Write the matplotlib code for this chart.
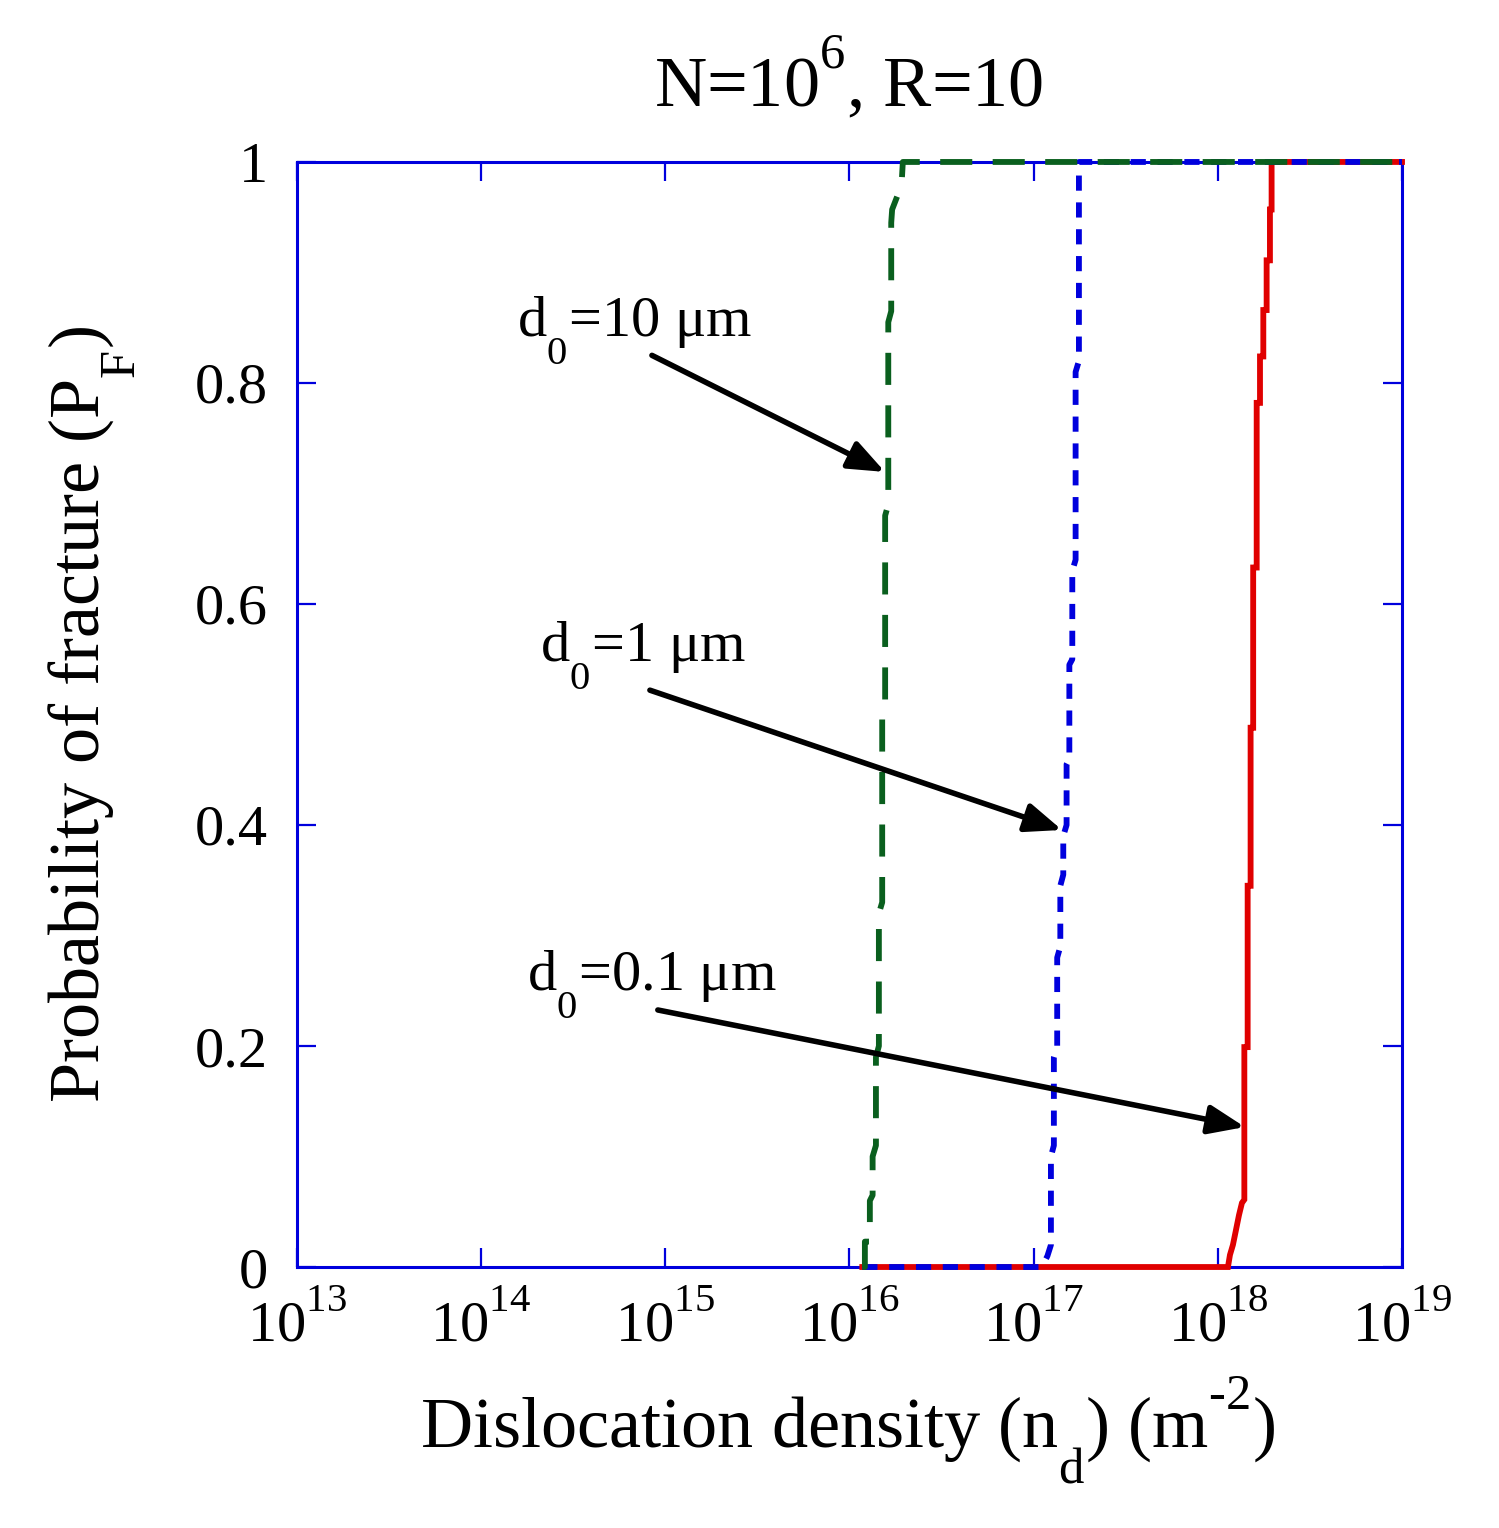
import numpy as np
import matplotlib
matplotlib.use('Agg')
import matplotlib.pyplot as plt
import matplotlib._mathtext as mathtext_internal

# Font setup - Times-like serif everywhere, including math text
plt.rcParams['font.family'] = ['Liberation Serif', 'DejaVu Serif']
plt.rcParams['mathtext.fontset'] = 'custom'
plt.rcParams['mathtext.rm'] = 'Liberation Serif'
plt.rcParams['mathtext.it'] = 'Liberation Serif'
plt.rcParams['mathtext.bf'] = 'Liberation Serif:bold'
# the original raises superscripts and drops subscripts further than mathtext does
mathtext_internal.FontConstantsBase.sup1 = 1.15
mathtext_internal.FontConstantsBase.sub1 = 1.1

# Curves: log10(n_d) and P_F
# d0 = 0.1 um (red, solid)
red_logn = [16.07, 18.055, 18.066, 18.082, 18.098, 18.115, 18.131, 18.144, 18.144,
            18.162, 18.162, 18.178, 18.178, 18.192, 18.192, 18.211, 18.211, 18.229,
            18.229, 18.247, 18.247, 18.265, 18.265, 18.283, 18.283, 18.292, 18.292, 19.0]
red_pf = [0, 0, 0.011, 0.020, 0.033, 0.047, 0.058, 0.061, 0.199,
          0.199, 0.345, 0.345, 0.488, 0.488, 0.633, 0.633, 0.782, 0.782,
          0.824, 0.824, 0.866, 0.866, 0.911, 0.911, 0.957, 0.957, 1.0, 1.0]

# d0 = 1 um (blue, dotted)
blue_logn = [16.07, 17.03, 17.06, 17.075, 17.094, 17.094, 17.110, 17.110, 17.128, 17.128,
             17.145, 17.145, 17.161, 17.161, 17.179, 17.179, 17.194, 17.194, 17.210,
             17.210, 17.228, 17.228, 17.246, 17.246, 19.0]
blue_pf = [0, 0, 0.005, 0.01, 0.02, 0.10, 0.11, 0.19, 0.20, 0.28,
           0.29, 0.345, 0.355, 0.39, 0.40, 0.455, 0.46, 0.545, 0.55,
           0.63, 0.64, 0.81, 0.82, 1.0, 1.0]

# d0 = 10 um (green, dashed)
green_logn = [16.07, 16.084, 16.084, 16.111, 16.111, 16.126, 16.126, 16.144, 16.144,
              16.160, 16.160, 16.178, 16.178, 16.194, 16.194, 16.211, 16.211, 16.227,
              16.227, 16.232, 16.283, 16.29, 19.0]
green_pf = [0, 0, 0.023, 0.023, 0.06, 0.065, 0.10, 0.11, 0.19,
            0.20, 0.32, 0.33, 0.50, 0.51, 0.68, 0.69, 0.855, 0.865,
            0.945, 0.957, 0.979, 1.0, 1.0]

# annotations: label, label position, arrow tail, arrow head (log10 n_d, P_F)
labels = [r'd$_{0}$=10 μm', r'd$_{0}$=1 μm', r'd$_{0}$=0.1 μm']
label_pos = [(14.195, 0.843), (14.319, 0.549), (14.249, 0.251)]
arrow_tail = [(14.928, 0.825), (14.917, 0.522), (14.960, 0.2326)]
arrow_head = [(16.193, 0.7195), (17.154, 0.3955), (18.147, 0.1267)]

yticks = [0, 0.2, 0.4, 0.6, 0.8, 1]
ytick_labels = ['0', '0.2', '0.4', '0.6', '0.8', '1']

spine_blue = '#0000dd'

fig = plt.figure(figsize=(14.99, 15.28), dpi=100)
ax = fig.add_axes([0.198, 0.1708, 0.7373, 0.7232])

ax.plot(10 ** np.array(red_logn), red_pf, color='#e00000', lw=4.2,
        zorder=3, clip_on=False, solid_joinstyle='miter')
ax.plot(10 ** np.array(blue_logn), blue_pf, color='#0000dd', lw=4.2,
        dashes=(2.6, 2.0), zorder=3.1, clip_on=False)
ax.plot(10 ** np.array(green_logn), green_pf, color='#0a5f1e', lw=4.2,
        dashes=(5.5, 3.5), zorder=3.2, clip_on=False)

for lab, lp, tail, head in zip(labels, label_pos, arrow_tail, arrow_head):
    ax.text(10 ** lp[0], lp[1], lab, fontsize=42, ha='left', va='baseline')
    ax.annotate('', xy=(10 ** head[0], head[1]), xytext=(10 ** tail[0], tail[1]),
                arrowprops=dict(arrowstyle='-|>,head_length=0.55,head_width=0.22',
                                mutation_scale=40, lw=4, color='black',
                                shrinkA=0, shrinkB=0),
                zorder=4)

ax.set_xscale('log')
ax.set_xlim(1e13, 1e19)
ax.set_ylim(0, 1)
ax.set_xticks([10.0 ** k for k in range(13, 20)])
ax.set_xticklabels([r'$10^{%d}$' % k for k in range(13, 20)])
ax.xaxis.set_minor_locator(matplotlib.ticker.NullLocator())
ax.set_yticks(yticks)
ax.set_yticklabels(ytick_labels)

for sp in ax.spines.values():
    sp.set_color(spine_blue)
    sp.set_linewidth(2.2)

ax.tick_params(axis='both', which='major', direction='in', length=14, width=1.6,
               color=spine_blue, top=True, right=True, labelsize=42)
ax.tick_params(axis='x', pad=19)
ax.tick_params(axis='y', pad=21)

ax.set_xlabel(r'Dislocation density (n$_{d}$) (m$^{\text{-}2}$)', fontsize=52)
ax.xaxis.label.set_va('baseline')
ax.xaxis.set_label_coords(0.498, -0.164)

ax.set_ylabel(r'Probability of fracture (P$_{F}$)', fontsize=52)
ax.yaxis.label.set_va('center')
ax.yaxis.set_label_coords(-0.185, 0.5)

ax.text(0.499, 1.0498, r'N=10$^{6}$, R=10', fontsize=52, ha='center',
        va='baseline', transform=ax.transAxes)

fig.savefig('out.png', dpi=100)
